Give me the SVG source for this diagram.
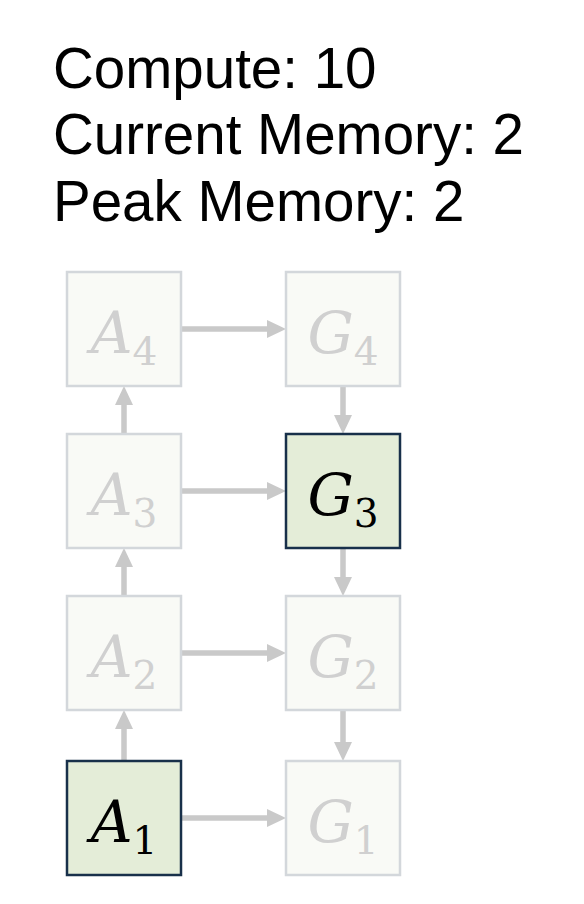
<svg xmlns="http://www.w3.org/2000/svg" width="584" height="904" viewBox="0 0 584 904">
<defs>
<marker id="ah" markerUnits="userSpaceOnUse" markerWidth="20" markerHeight="20" refX="0" refY="9" orient="auto">
<path d="M0,0 L19,9 L0,18 Z" fill="#C9C9C9"/>
</marker>
<style>
.hdr{font-family:"Liberation Sans",Arial,sans-serif;font-size:56.5px;fill:#000}
.box{fill:#F9FAF6;stroke:#D3D7DB;stroke-width:2.5}
.box.on{fill:#E4EDD8;stroke:#18304A}
.lbl{font-family:"DejaVu Serif","Liberation Serif",serif;font-style:italic;font-size:58px;fill:#D0D0D0;text-anchor:middle}
.lbl.on{fill:#000}
.sub{font-style:normal;font-size:39px}
.con{fill:none;stroke:#C9C9C9;stroke-width:5.5;marker-end:url(#ah)}
</style>
</defs>
<rect width="584" height="904" fill="#fff"/>
<g id="header">
<text class="hdr" x="53" y="87.5">Compute: 10</text>
<text class="hdr" x="53" y="154">Current Memory: 2</text>
<text class="hdr" x="53" y="220.5">Peak Memory: 2</text>
</g>
<g id="connectors">
<path class="con" d="M181,329 H267"/>
<path class="con" d="M181,491 H267"/>
<path class="con" d="M181,653 H267"/>
<path class="con" d="M181,818 H267"/>
<path class="con" d="M124,761 V729"/>
<path class="con" d="M124,596 V567"/>
<path class="con" d="M124,434 V405"/>
<path class="con" d="M343,386 V415"/>
<path class="con" d="M343,548 V577"/>
<path class="con" d="M343,710 V742"/>
</g>
<g id="A4"><rect class="box" x="67" y="272" width="114" height="114"/><text class="lbl" x="124" y="353">A<tspan class="sub" dy="12">4</tspan></text></g>
<g id="G4"><rect class="box" x="286" y="272" width="114" height="114"/><text class="lbl" x="343" y="353">G<tspan class="sub" dy="12">4</tspan></text></g>
<g id="A3"><rect class="box" x="67" y="434" width="114" height="114"/><text class="lbl" x="124" y="515">A<tspan class="sub" dy="12">3</tspan></text></g>
<g id="G3"><rect class="box on" x="286" y="434" width="114" height="114"/><text class="lbl on" x="343" y="515">G<tspan class="sub" dy="12">3</tspan></text></g>
<g id="A2"><rect class="box" x="67" y="596" width="114" height="114"/><text class="lbl" x="124" y="677">A<tspan class="sub" dy="12">2</tspan></text></g>
<g id="G2"><rect class="box" x="286" y="596" width="114" height="114"/><text class="lbl" x="343" y="677">G<tspan class="sub" dy="12">2</tspan></text></g>
<g id="A1"><rect class="box on" x="67" y="761" width="114" height="114"/><text class="lbl on" x="124" y="842">A<tspan class="sub" dy="12">1</tspan></text></g>
<g id="G1"><rect class="box" x="286" y="761" width="114" height="114"/><text class="lbl" x="343" y="842">G<tspan class="sub" dy="12">1</tspan></text></g>
</svg>
